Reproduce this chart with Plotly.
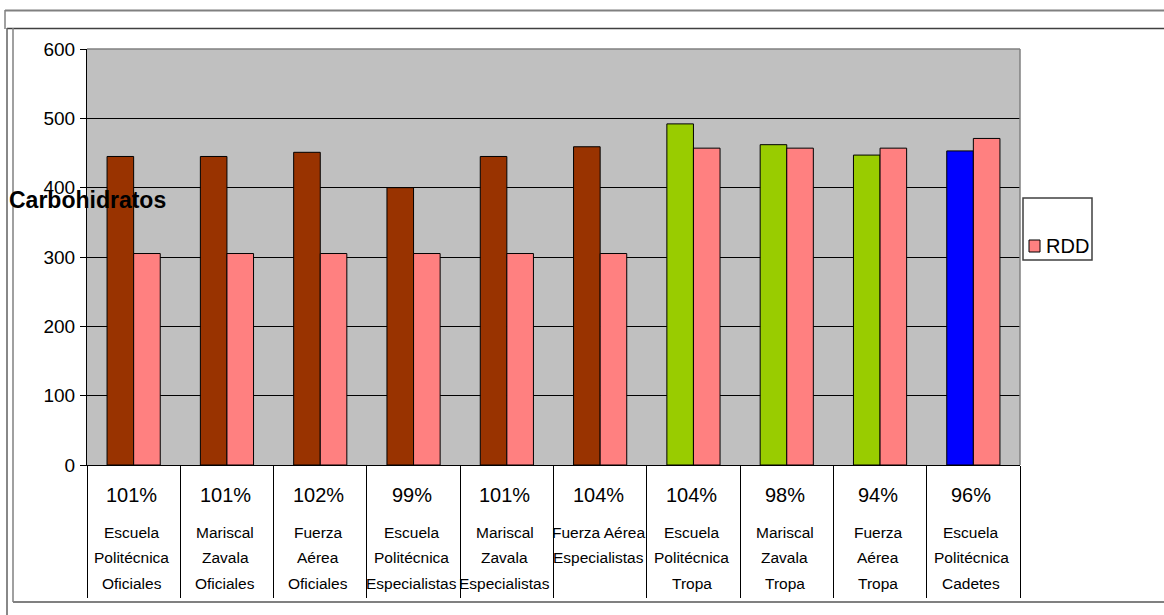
import plotly.graph_objects as go

# Carbohydrate supply per unit vs. recommended daily dose (RDD)
units = [
    ["Escuela", "Politécnica", "Oficiales"],
    ["Mariscal", "Zavala", "Oficiales"],
    ["Fuerza", "Aérea", "Oficiales"],
    ["Escuela", "Politécnica", "Especialistas"],
    ["Mariscal", "Zavala", "Especialistas"],
    ["Fuerza Aérea", "Especialistas"],
    ["Escuela", "Politécnica", "Tropa"],
    ["Mariscal", "Zavala", "Tropa"],
    ["Fuerza", "Aérea", "Tropa"],
    ["Escuela", "Politécnica", "Cadetes"],
]
percent = ["101%", "101%", "102%", "99%", "101%", "104%", "104%", "98%", "94%", "96%"]
supplied = [445, 445, 451, 400, 445, 459, 492, 462, 447, 453]
rdd = [305, 305, 305, 305, 305, 305, 457, 457, 457, 471]
supplied_colors = ["#993300"] * 6 + ["#99CC00"] * 3 + ["#0000FF"]
rdd_color = "#FF8080"

W, H = 1164, 615
ML, MR, MT, MB = 87, 144, 49, 150
PW, PH = W - ML - MR, H - MT - MB

def px_x(x):
    return (x - ML) / PW

def px_y(y):
    return (H - MB - y) / PH

FONT = "Liberation Sans, Arial, sans-serif"
idx = list(range(len(units)))

fig = go.Figure()
fig.add_bar(x=idx, y=supplied, name="", showlegend=False,
            marker=dict(color=supplied_colors, line=dict(color="#000000", width=1)))
fig.add_bar(x=idx, y=rdd, name="RDD", showlegend=False,
            marker=dict(color=rdd_color, line=dict(color="#000000", width=1)))

annotations = []
# category labels: percentage plus unit name lines
for i, (pct, lines) in enumerate(zip(percent, units)):
    annotations.append(dict(x=i - 0.02, y=px_y(495), xref="x", yref="paper", text=pct,
                            showarrow=False, font=dict(family=FONT, size=20, color="#000"),
                            xanchor="center", yanchor="middle"))
    for k, line in enumerate(lines):
        annotations.append(dict(x=i - 0.02, y=px_y(532 + 25.5 * k), xref="x", yref="paper",
                                text=line, showarrow=False,
                                font=dict(family=FONT, size=15.5, color="#000"),
                                xanchor="center", yanchor="middle"))

# axis title
annotations.append(dict(x=px_x(7), y=px_y(200), xref="paper", yref="paper",
                        text="<b>Carbohidratos</b>", showarrow=False,
                        font=dict(family=FONT, size=23, color="#000"),
                        xanchor="left", yanchor="middle"))
# legend text
annotations.append(dict(x=px_x(1044), y=px_y(246), xref="paper", yref="paper",
                        text="RDD", showarrow=False,
                        font=dict(family=FONT, size=20, color="#000"),
                        xanchor="left", yanchor="middle"))

def pline(x0, y0, x1, y1, color, width):
    return dict(type="line", xref="paper", yref="paper",
                x0=px_x(x0), y0=px_y(y0), x1=px_x(x1), y1=px_y(y1),
                line=dict(color=color, width=width))

shapes = [
    # outer frames
    pline(5, 10.5, W + 5, 10.5, "#808080", 2),
    pline(5, 10, 5, 29, "#808080", 1.5),
    pline(7, 28.5, W + 5, 28.5, "#404040", 1.5),
    pline(7, 28, 7, H + 5, "#606060", 1.5),
    pline(13, 28, 13, 602, "#808080", 1.5),
    pline(13, 602, W + 5, 602, "#808080", 2),
    # plot area border (top and right)
    pline(ML, MT, ML + PW, MT, "#808080", 1.5),
    pline(ML + PW, MT, ML + PW, H - MB, "#808080", 1.5),
    # legend box and swatch
    dict(type="rect", xref="paper", yref="paper",
         x0=px_x(1023), y0=px_y(198), x1=px_x(1092), y1=px_y(260),
         line=dict(color="#404040", width=1.5), fillcolor="#FFFFFF"),
    dict(type="rect", xref="paper", yref="paper",
         x0=px_x(1029), y0=px_y(240), x1=px_x(1040), y1=px_y(252),
         line=dict(color="#000000", width=1), fillcolor=rdd_color),
]

fig.update_layout(
    width=W, height=H,
    margin=dict(l=ML, r=MR, t=MT, b=MB, pad=0),
    paper_bgcolor="#FFFFFF", plot_bgcolor="#C0C0C0",
    barmode="group", bargap=0.43, bargroupgap=0,
    annotations=annotations, shapes=shapes,
    showlegend=False,
    xaxis=dict(range=[-0.5, len(units) - 0.5],
               tickvals=[i - 0.5 for i in range(len(units) + 1)],
               ticktext=[""] * (len(units) + 1),
               ticks="outside", ticklen=132, tickwidth=1, tickcolor="#000000",
               showline=True, linecolor="#000000", linewidth=1,
               showgrid=False, zeroline=False, fixedrange=True),
    yaxis=dict(range=[0, 600], dtick=100, ticks="outside", ticklen=6,
               tickwidth=1, tickcolor="#000000",
               tickfont=dict(family=FONT, size=19, color="#000"),
               showline=True, linecolor="#000000", linewidth=1,
               showgrid=True, gridcolor="#000000", gridwidth=1,
               zeroline=False, ticklabelstandoff=1),
)

fig.write_html("out.html")
